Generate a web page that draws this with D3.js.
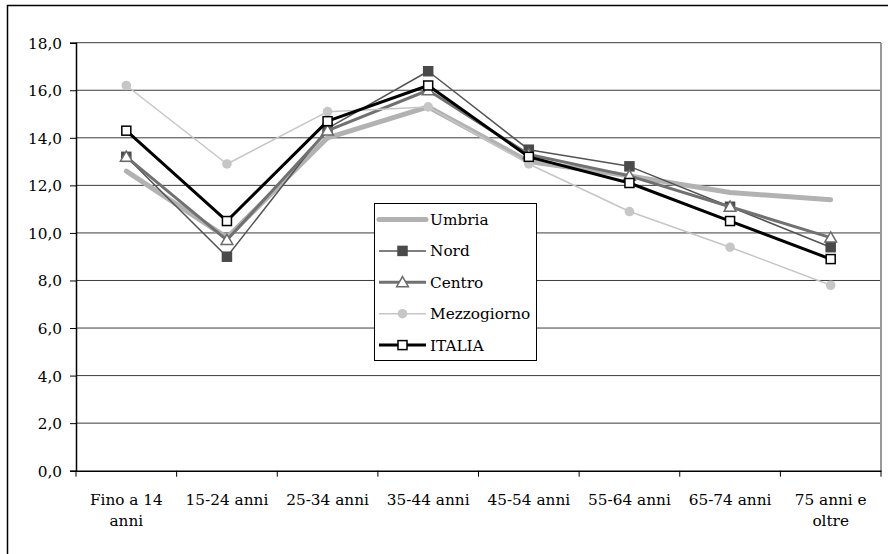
<!DOCTYPE html>
<html lang="it">
<head>
<meta charset="utf-8">
<script src="https://cdnjs.cloudflare.com/ajax/libs/d3/7.8.5/d3.min.js"></script>
<style>
  body { margin: 0; background: #fff; }
</style>
</head>
<body>
<script>

// age classes (x categories), each split into label lines
var categories = ["Fino a 14 anni", "15-24 anni", "25-34 anni", "35-44 anni",
                  "45-54 anni", "55-64 anni", "65-74 anni", "75 anni e oltre"];
var categoryLines = [["Fino a 14", "anni"], ["15-24 anni"], ["25-34 anni"], ["35-44 anni"],
                     ["45-54 anni"], ["55-64 anni"], ["65-74 anni"], ["75 anni e", "oltre"]];

// series values
var umbria      = [12.6,  9.8, 14.0, 15.3, 13.0, 12.4, 11.7, 11.4];
var nord        = [13.2,  9.0, 14.4, 16.8, 13.5, 12.8, 11.1,  9.4];
var centro      = [13.2,  9.7, 14.3, 16.0, 13.3, 12.4, 11.1,  9.8];
var mezzogiorno = [16.2, 12.9, 15.1, 15.3, 12.9, 10.9,  9.4,  7.8];
var italia      = [14.3, 10.5, 14.7, 16.2, 13.2, 12.1, 10.5,  8.9];

var yTicks = [0, 2, 4, 6, 8, 10, 12, 14, 16, 18];

var series = [
  {name: "Umbria",      values: umbria,      color: "#b2b2b2", width: 5,   marker: null},
  {name: "Nord",        values: nord,        color: "#545454", width: 1.5, marker: "square", fill: "#4a4a4a", stroke: "#4a4a4a"},
  {name: "Centro",      values: centro,      color: "#717171", width: 3,   marker: "triangle", fill: "#fff", stroke: "#6a6a6a"},
  {name: "Mezzogiorno", values: mezzogiorno, color: "#c6c6c6", width: 1.5, marker: "circle", fill: "#c6c6c6", stroke: "#c6c6c6"},
  {name: "ITALIA",      values: italia,      color: "#000",    width: 3,   marker: "square", fill: "#fff", stroke: "#000"}
];

// Liberation Serif is not picked up here, DejaVu Serif is
var FONT = "DejaVu Serif, serif";
var FS = 15.3;
var W = 888, H = 554;
var plot = {left: 76, right: 881, top: 42.7, bottom: 470.7};

var svg = d3.select("body").append("svg")
    .attr("width", W)
    .attr("height", H);

// outer chart frame (bottom and right run off the picture)
svg.append("rect")
    .attr("x", 7.5).attr("y", 5.5)
    .attr("width", 900).attr("height", 600)
    .attr("fill", "#fff")
    .attr("stroke", "#000")
    .attr("stroke-width", 1.5);

var x = d3.scaleBand().domain(categories).range([plot.left, plot.right]).padding(0);
var y = d3.scaleLinear().domain([0, 18]).range([plot.bottom, plot.top]);

// gridlines
svg.append("g").selectAll("line")
    .data(yTicks.slice(1))
    .enter().append("line")
    .attr("x1", plot.left).attr("x2", plot.right)
    .attr("y1", function(d) { return y(d); })
    .attr("y2", function(d) { return y(d); })
    .attr("stroke", "#3c3c3c")
    .attr("stroke-width", 1);

// plot area right border
svg.append("line")
    .attr("x1", plot.right).attr("x2", plot.right)
    .attr("y1", plot.top).attr("y2", plot.bottom)
    .attr("stroke", "#999")
    .attr("stroke-width", 2);

// y axis
var yAxis = d3.axisLeft(y)
    .tickValues(yTicks)
    .tickSize(6)
    .tickPadding(8)
    .tickFormat(function(d) { return d3.format(".1f")(d).replace(".", ","); });

var gy = svg.append("g")
    .attr("transform", "translate(" + plot.left + ",0)")
    .call(yAxis)
    .attr("font-family", FONT)
    .attr("font-size", FS);
gy.select(".domain").attr("stroke", "#000").attr("stroke-width", 1.5);
gy.selectAll(".tick line").attr("stroke", "#000");
gy.selectAll(".tick text").attr("fill", "#000").attr("dy", "0.36em");

// x axis: labels centered in bands, ticks on band edges
var xAxis = d3.axisBottom(x).tickSize(0).tickFormat("");
var gx = svg.append("g")
    .attr("transform", "translate(0," + plot.bottom + ")")
    .call(xAxis)
    .attr("font-family", FONT)
    .attr("font-size", FS);
gx.select(".domain").attr("stroke", "#000").attr("stroke-width", 1.5);

var edges = categories.map(function(c) { return x(c); }).concat([plot.right]);
gx.selectAll(".edge")
    .data(edges)
    .enter().append("line")
    .attr("class", "edge")
    .attr("x1", function(d) { return d; }).attr("x2", function(d) { return d; })
    .attr("y1", 0).attr("y2", 6)
    .attr("stroke", "#000");

gx.selectAll(".tick").each(function(c, i) {
  var t = d3.select(this).append("text")
      .attr("text-anchor", "middle")
      .attr("fill", "#000");
  categoryLines[i].forEach(function(line, j) {
    t.append("tspan")
        .attr("x", 0)
        .attr("y", 34 + j * 21.5)
        .text(line);
  });
});

// lines
var cx = function(i) { return x(categories[i]) + x.bandwidth() / 2; };
var line = d3.line()
    .x(function(d, i) { return cx(i); })
    .y(function(d) { return y(d); });

function drawMarker(g, type, px, py, s) {
  if (type === "square") {
    g.append("rect")
        .attr("x", px - 4.5).attr("y", py - 4.5)
        .attr("width", 9).attr("height", 9)
        .attr("fill", s.fill).attr("stroke", s.stroke).attr("stroke-width", 1.5);
  } else if (type === "triangle") {
    g.append("path")
        .attr("d", d3.symbol().type(d3.symbolTriangle).size(60)())
        .attr("transform", "translate(" + px + "," + (py + 1) + ")")
        .attr("fill", s.fill).attr("stroke", s.stroke).attr("stroke-width", 1.5);
  } else if (type === "circle") {
    g.append("circle")
        .attr("cx", px).attr("cy", py).attr("r", 4.8)
        .attr("fill", s.fill);
  }
}

series.forEach(function(s) {
  var g = svg.append("g");
  g.append("path")
      .datum(s.values)
      .attr("d", line)
      .attr("fill", "none")
      .attr("stroke", s.color)
      .attr("stroke-width", s.width)
      .attr("stroke-linejoin", "round")
      .attr("stroke-linecap", s.marker ? "butt" : "round");
  if (s.marker) {
    s.values.forEach(function(v, i) { drawMarker(g, s.marker, cx(i), y(v), s); });
  }
});

// legend
var legend = svg.append("g");
legend.append("rect")
    .attr("x", 374.5).attr("y", 203.5)
    .attr("width", 162).attr("height", 157)
    .attr("fill", "#fff")
    .attr("stroke", "#000")
    .attr("stroke-width", 1);

series.forEach(function(s, i) {
  var ly = 219.5 + i * 31.4;
  var g = legend.append("g");
  g.append("line")
      .attr("x1", 379).attr("x2", 426)
      .attr("y1", ly).attr("y2", ly)
      .attr("stroke", s.color)
      .attr("stroke-width", s.width)
      .attr("stroke-linecap", s.marker ? "butt" : "round");
  if (s.marker) drawMarker(g, s.marker, 402.5, ly, s);
  g.append("text")
      .attr("x", 430)
      .attr("y", ly + 5.5)
      .attr("font-family", FONT)
      .attr("font-size", FS)
      .text(s.name);
});

</script>
</body>
</html>
